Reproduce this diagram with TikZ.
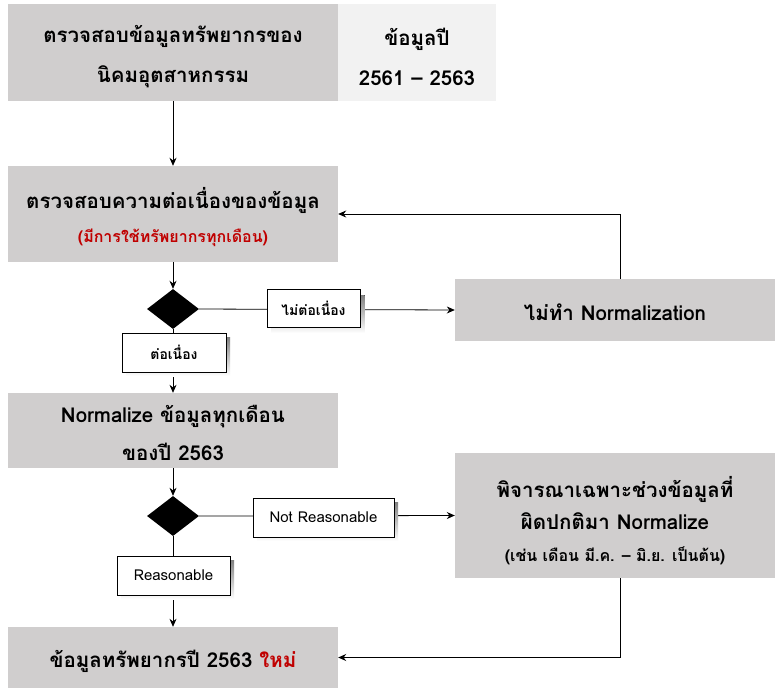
\documentclass[tikz,border=0pt]{standalone}
\usepackage{fontspec}
\setmainfont[Script=Thai]{Loma}
\usetikzlibrary{shapes.geometric,arrows.meta}
\definecolor{boxgray}{HTML}{D0CECE}
\definecolor{boxlight}{HTML}{F2F2F2}
\definecolor{thred}{HTML}{C00000}
\definecolor{shade}{HTML}{8C8C8C}
\begin{document}
\begin{tikzpicture}[x=1pt,y=-1pt,
  every node/.style={font=\bfseries},
  bigbox/.style={rectangle,fill=boxgray,inner sep=0pt},
  lightbox/.style={bigbox,fill=boxlight},
  txt/.style={inner sep=0pt,align=center,font=\fontsize{20.5}{40}\selectfont\bfseries},
  decision/.style={diamond,fill=black,inner sep=0pt,minimum width=52pt,minimum height=40pt},
  tag/.style={rectangle,draw=black,line width=0.9pt,fill=white,inner sep=0pt,minimum height=38pt,
     font=\fontsize{14}{16}\selectfont\bfseries},
  tagplain/.style={tag,font=\fontsize{15}{17}\selectfont},
  arr/.style={-{Stealth[length=8pt,width=7pt]},line width=0.8pt}]
\useasboundingbox (0,0) rectangle (775,688);
\fill[white] (0,0) rectangle (775,688);

\node[bigbox,minimum width=330pt,minimum height=97pt] (b1) at (173,52.5) {};
\node[txt] (b1t) at ([yshift=-4pt]b1.center) {ตรวจสอบข้อมูลทรัพยากรของ\\นิคมอุตสาหกรรม};
\node[lightbox,minimum width=158pt,minimum height=97pt] (b2) at (417,52.5) {};
\node[txt] (b2t) at ([yshift=-4pt]b2.center) {ข้อมูลปี\\2561 – 2563};

\node[bigbox,minimum width=330pt,minimum height=96pt] (b3) at (173,214) {};
\node[txt] (b3t) at ([yshift=-3pt]b3.center) {ตรวจสอบความต่อเนื่องของข้อมูล\\[-6pt]{\fontsize{16}{18}\selectfont\color{thred}(มีการใช้ทรัพยากรทุกเดือน)}};

\node[decision] (d1) at (173,309) {};
\node[bigbox,minimum width=320pt,minimum height=62pt] (nn) at (615,310) {};
\node[txt] (nnt) at ([yshift=-2pt]nn.center) {ไม่ทำ Normalization};

\node[bigbox,minimum width=330pt,minimum height=75pt] (b4) at (173,430.5) {};
\node[txt] (b4t) at ([yshift=-2pt]b4.center) {Normalize ข้อมูลทุกเดือน\\[-2pt]ของปี 2563};

\node[decision] (d2) at (173,516) {};
\node[bigbox,minimum width=320pt,minimum height=125pt] (b5) at (615,515.5) {};
\node[txt] (b5t) at ([yshift=-5pt]b5.center) {พิจารณาเฉพาะช่วงข้อมูลที่\\[-8pt]ผิดปกติมา Normalize\\[-8pt]{\fontsize{16}{18}\selectfont(เช่น เดือน มี.ค. – มิ.ย. เป็นต้น)}};

\node[bigbox,minimum width=330pt,minimum height=61pt] (b6) at (173,657.5) {};
\node[txt] (b6t) at ([yshift=-4pt]b6.center) {ข้อมูลทรัพยากรปี 2563 \textcolor{thred}{ใหม่}};

% connectors
\draw[arr] (b1.south) -- (b3.north);
\draw[arr] (b3.south) -- (d1.north);
\draw[arr] (d1.east) -- (nn.west);
\draw[arr] (d1.south) -- (b4.north);
\draw[arr] ([xshift=5pt]nn.north) |- (b3.east);
\draw[arr] (b4.south) -- (d2.north);
\draw[arr] (d2.east) -- (b5.west);
\draw[arr] (d2.south) -- (b6.north);
\draw[arr] ([xshift=5pt]b5.south) |- (b6.east);

% shadows of the labels
\fill[shade] (271.5,295) rectangle (364.5,333);
\fill[shade] (126,337) rectangle (230,376);
\fill[shade] (257,502) rectangle (398,541);
\fill[shade] (121,560) rectangle (234,599);

% labels on connectors
\node[tag,minimum width=93pt] (t1) at (313.5,308) {ไม่ต่อเนื่อง};
\node[tag,minimum width=104pt,minimum height=39pt] (t2) at (174,352.5) {ต่อเนื่อง};
\node[tagplain,minimum width=141pt,minimum height=39pt] (t3) at (323.5,517.5) {Not Reasonable};
\node[tagplain,minimum width=113pt,minimum height=39pt] (t4) at (173.5,575.5) {Reasonable};
\end{tikzpicture}
\end{document}
